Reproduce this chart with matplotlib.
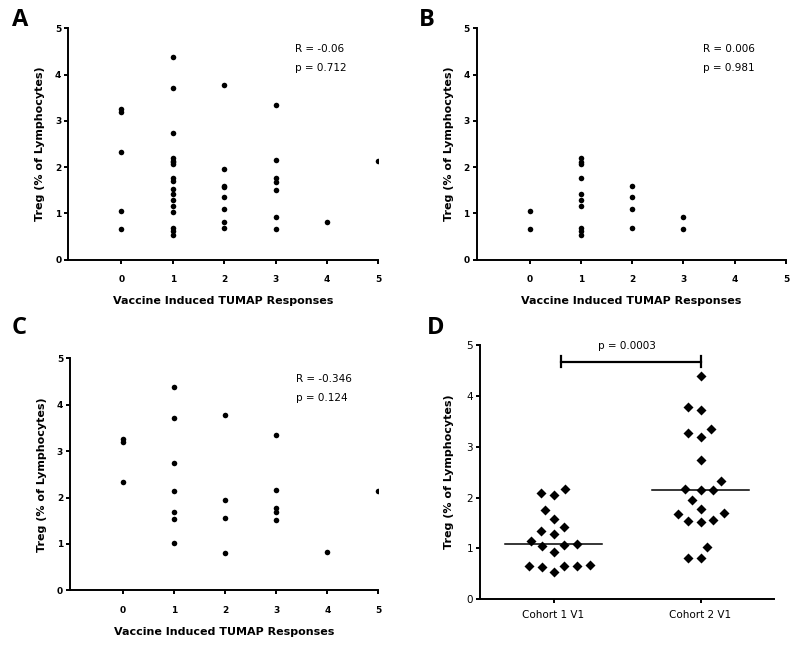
import matplotlib.pyplot as plt
import numpy as np

# Panel B (cohort 1) and C (cohort 2): TUMAP responses vs Treg %
resp_b = [0, 0, 1, 1, 1, 1, 1, 1, 1, 1, 1, 1, 2, 2, 2, 2, 3, 3]
treg_b = [1.05, 0.66, 2.19, 2.12, 2.06, 1.76, 1.43, 1.29, 1.16, 0.68, 0.63, 0.53,
          1.59, 1.36, 1.09, 0.69, 0.92, 0.66]
resp_c = [0, 0, 0, 1, 1, 1, 1, 1, 1, 1, 2, 2, 2, 2, 3, 3, 3, 3, 3, 4, 5]
treg_c = [3.26, 3.20, 2.33, 4.39, 3.72, 2.74, 2.14, 1.69, 1.53, 1.03,
          3.78, 1.95, 1.56, 0.81, 3.34, 2.16, 1.77, 1.68, 1.51, 0.82, 2.14]
# Panel A = all patients
resp_a = resp_b + resp_c
treg_a = treg_b + treg_c

stats_a = ("R = -0.06", "p = 0.712")
stats_b = ("R = 0.006", "p = 0.981")
stats_c = ("R = -0.346", "p = 0.124")

# Panel D
cohorts = ["Cohort 1 V1", "Cohort 2 V1"]
cohort1 = [2.17, 2.08, 2.05, 1.76, 1.58, 1.42, 1.35, 1.28, 1.15, 1.09, 1.06, 1.04,
           0.92, 0.68, 0.66, 0.66, 0.66, 0.63, 0.53]
cohort2 = treg_c
p_d = "p = 0.0003"

xlab = "Vaccine Induced TUMAP Responses"
ylab = "Treg (% of Lymphocytes)"

fig = plt.figure(figsize=(8, 6.46), dpi=100)


def style_axes(ax, bold=True):
    for s in ["top", "right"]:
        ax.spines[s].set_visible(False)
    for s in ["left", "bottom"]:
        ax.spines[s].set_linewidth(1.4)
    ax.tick_params(width=1.4, length=3, labelsize=6.5, pad=2)
    if bold:
        for t in ax.get_xticklabels() + ax.get_yticklabels():
            t.set_fontweight("bold")


def scatter_panel(rect, xs, ys, stats):
    ax = fig.add_axes(rect)
    ax.plot(xs, ys, "o", color="black", ms=4.0, mec="none")
    ax.set_xlim(-1.03, 5)
    ax.set_ylim(0, 5)
    ax.set_xticks(range(6))
    ax.set_yticks(range(6))
    ax.spines["bottom"].set_bounds(-1.03, 5)
    style_axes(ax)
    ax.tick_params(axis="x", pad=8)
    ax.set_xlabel(xlab, fontsize=8, fontweight="bold", labelpad=9)
    ax.set_ylabel(ylab, fontsize=8, fontweight="bold", labelpad=7)
    ax.text(3.38, 4.56, stats[0], fontsize=7.5, va="center")
    ax.text(3.38, 4.15, stats[1], fontsize=7.5, va="center")
    return ax


scatter_panel([0.0854, 0.598, 0.3875, 0.3582], resp_a, treg_a, stats_a)
scatter_panel([0.5959, 0.598, 0.3866, 0.3582], resp_b, treg_b, stats_b)
scatter_panel([0.0875, 0.0862, 0.3855, 0.359], resp_c, treg_c, stats_c)

for lt, x, y in [("A", 0.015, 0.988), ("B", 0.523, 0.988), ("C", 0.015, 0.511), ("D", 0.533, 0.511)]:
    fig.text(x, y, lt, fontsize=17, fontweight="bold", family="Open Sans", va="top")

# Panel D: beeswarm scatter with medians
axd = fig.add_axes([0.6, 0.0723, 0.3675, 0.3937])
axd.set_xlim(-0.5, 1.5)
axd.set_ylim(0, 5)
xscale = 0.3675 * 800 / 2.0   # px per category
yscale = 0.3937 * 646 / 5.0   # px per unit
diam = 12.7                   # px


def swarm(vals):
    order = np.argsort(vals)
    placed = []
    offs = np.zeros(len(vals))
    for i in order:
        y = vals[i] * yscale
        cands = [0.0]
        for (px, py) in placed:
            dy = abs(y - py)
            if dy < diam:
                dx = np.sqrt(diam ** 2 - dy ** 2)
                cands += [px + dx, px - dx]
        cands = sorted(cands, key=lambda c: (abs(c), c))
        for c in cands:
            if all((c - px) ** 2 + (y - py) ** 2 >= diam ** 2 - 1e-6 for px, py in placed):
                break
        placed.append((c, y))
        offs[i] = c / xscale
    return offs


for k, vals in enumerate([cohort1, cohort2]):
    vals = np.array(vals)
    axd.plot(k + swarm(vals), vals, "D", color="black", ms=5, mec="none")
    med = np.median(vals)
    axd.plot([k - 0.33, k + 0.33], [med, med], color="black", lw=1.1)

axd.plot([0.05, 1.0], [4.67, 4.67], color="black", lw=1.6)
axd.plot([0.05, 0.05], [4.56, 4.78], color="black", lw=1.6)
axd.plot([1.0, 1.0], [4.56, 4.78], color="black", lw=1.6)
axd.text(0.5, 4.97, p_d, fontsize=7.5, ha="center", va="center")

axd.set_xticks([0, 1])
axd.set_xticklabels(cohorts, fontsize=7.5)
axd.set_yticks(range(6))
style_axes(axd, bold=False)
axd.tick_params(axis="y", labelsize=7.5)
axd.tick_params(axis="x", labelsize=7.5, pad=5)
axd.set_ylabel(ylab, fontsize=8, fontweight="bold", labelpad=9)

fig.savefig("out.png", dpi=100)
